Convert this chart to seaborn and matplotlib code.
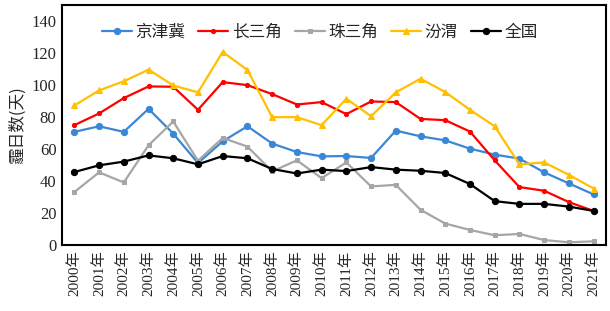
import numpy as np
import pandas as pd
import matplotlib
matplotlib.use("Agg")
import matplotlib.pyplot as plt
from matplotlib.ticker import FixedLocator
import seaborn as sns

years = [f"{y}年" for y in range(2000, 2022)]

jingjinji = [70.7, 74.2, 70.7, 85.1, 69.6, 51.2, 64.8, 74.2, 63.4, 58.1, 55.4,
             55.6, 54.4, 71.5, 67.9, 65.4, 60.2, 56.5, 54.0, 45.4, 38.5, 31.6]
changsanjiao = [74.9, 82.2, 91.8, 99.1, 98.9, 84.5, 101.8, 99.9, 94.3, 87.8, 89.3,
                81.8, 89.7, 89.3, 78.8, 78.0, 70.9, 52.9, 36.2, 33.9, 26.8, 21.3]
zhusanjiao = [33.1, 45.4, 39.1, 62.3, 77.2, 52.7, 66.9, 61.5, 46.0, 52.9, 41.8,
              51.6, 36.6, 37.6, 22.0, 13.4, 9.4, 6.1, 6.9, 3.1, 1.7, 2.3]
fenwei = [87.2, 96.6, 102.3, 109.6, 99.7, 95.4, 120.6, 109.4, 79.9, 79.9, 74.9,
          91.4, 80.5, 95.4, 103.9, 95.6, 84.5, 74.2, 50.4, 51.6, 43.9, 35.3]
quanguo = [45.6, 49.8, 52.1, 56.0, 54.2, 50.4, 55.6, 54.2, 47.5, 44.7, 47.1,
           46.2, 48.7, 47.1, 46.4, 45.0, 38.1, 27.4, 25.7, 25.7, 24.0, 21.3]

series = {
    "京津冀": (jingjinji, "#3a87d6", "o", 4.5),
    "长三角": (changsanjiao, "#ff0000", "o", 3),
    "珠三角": (zhusanjiao, "#a6a6a6", "s", 3),
    "汾渭": (fenwei, "#ffc000", "^", 4.5),
    "全国": (quanguo, "#000000", "o", 4.5),
}

sns.set_style("white")
fonts = ["Liberation Serif", "Noto Sans CJK SC", "DejaVu Sans"]
plt.rcParams["font.family"] = fonts

fig = plt.figure(figsize=(6.1, 3.11), dpi=100)
ax = fig.add_axes([0.1016, 0.2122, 0.8918, 0.7718])

x = np.arange(len(years))
for name, (vals, color, marker, ms) in series.items():
    df = pd.DataFrame({"x": x, "y": vals})
    sns.lineplot(data=df, x="x", y="y", ax=ax, color=color, marker=marker,
                 markersize=ms, markeredgecolor=color, linewidth=1.6, label=name)

ax.set_xlim(-0.5, len(years) - 0.5)
ax.set_ylim(0, 150)
ax.set_yticks(range(0, 141, 20))
ax.set_xticks(x)
ax.set_xticklabels(years, rotation=90, fontsize=11, family=["Liberation Serif", "Noto Sans CJK SC"])
ax.xaxis.set_minor_locator(FixedLocator(np.arange(-0.5, len(years), 1.0)))
ax.tick_params(axis="x", which="major", length=0, pad=4)
ax.tick_params(axis="x", which="minor", direction="in", length=4, width=1.2, color="black")
ax.tick_params(axis="y", length=0, labelsize=12, pad=4)
ax.set_xlabel("")
ax.set_ylabel("霾日数(天)", fontsize=12, family=["Noto Sans CJK SC"], labelpad=4)

for sp in ax.spines.values():
    sp.set_color("black")
    sp.set_linewidth(1.5)

leg = ax.legend(loc="upper center", bbox_to_anchor=(0.474, 0.985), ncol=5, frameon=False,
                handlelength=1.8, columnspacing=0.8, handletextpad=0.2,
                prop={"family": ["Noto Sans CJK SC"], "size": 12})

fig.savefig("out.png", dpi=100)
